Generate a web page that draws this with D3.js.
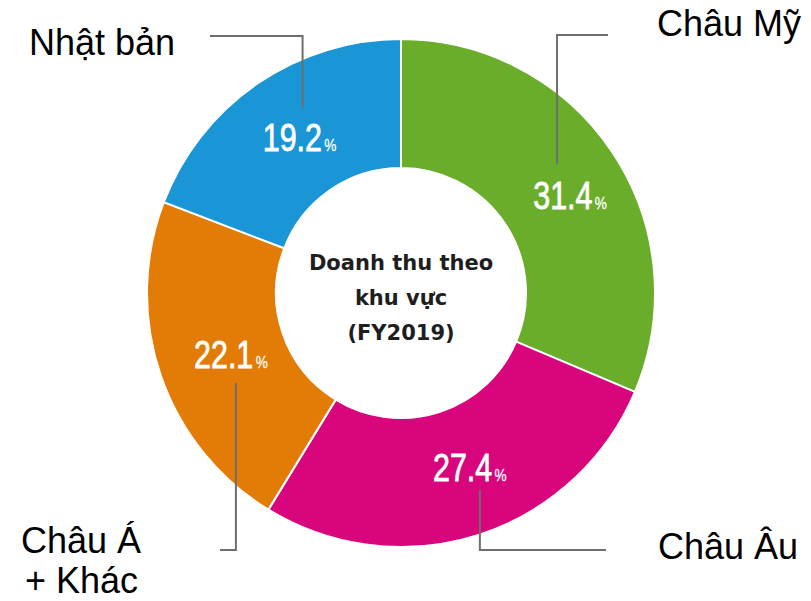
<!DOCTYPE html>
<html>
<head>
<meta charset="utf-8">
<script src="https://cdn.jsdelivr.net/npm/d3@7"></script>
<style>
  body { margin: 0; background: #fff; }
  svg { display: block; }
</style>
</head>
<body>
<div id="chart"></div>
<script>
// data
var regions = ["Châu Mỹ", "Châu Âu", "Châu Á + Khác", "Nhật bản"]
var shares = [31.4, 27.4, 22.1, 19.2]
var colors = ["#6aad2b", "#d8057c", "#e27c06", "#1a96d6"]
var centerLines = ["Doanh thu theo", "khu vực", "(FY2019)"]

var width = 811, height = 601
var cx = 401, cy = 293
var outerR = 254, innerR = 125

var svg = d3.select("#chart")
    .append("svg")
    .attr("width", width)
    .attr("height", height)

var g = svg.append("g")
    .attr("transform", "translate(" + cx + "," + cy + ")")

var pie = d3.pie().sort(null).value(function (d) { return d })
var arcs = pie(shares)

var arc = d3.arc().innerRadius(innerR).outerRadius(outerR)
var labelArc = d3.arc().innerRadius(186).outerRadius(186)

// slices
g.selectAll("path.slice")
    .data(arcs)
    .enter()
    .append("path")
    .attr("class", "slice")
    .attr("d", arc)
    .style("fill", function (d, i) { return colors[i] })
    .style("stroke", "#fff")
    .style("stroke-width", 2)

// small nudges for the percent labels (layout only)
var nudge = [[14, 6], [12, -2], [6, 2], [4, -2]]

var pos = arcs.map(function (d, i) {
    var c = labelArc.centroid(d)
    return [c[0] + nudge[i][0], c[1] + nudge[i][1]]
})

// leader lines: vertical from the label, then horizontal to the region name
// [dx from label centre, start dy, elbow y (abs), end x (abs)]
var leaderLayout = [
    [-13, -32, 35, 608],
    [10, 22, 550, 606],
    [5, 28, 550, 220],
    [3, -30, 36, 210]
]
var line = d3.line()
g.selectAll("path.leader")
    .data(arcs)
    .enter()
    .append("path")
    .attr("class", "leader")
    .attr("d", function (d, i) {
        var L = leaderLayout[i]
        var x = pos[i][0] + L[0]
        var y0 = pos[i][1] + L[1]
        return line([[x, y0], [x, L[2] - cy], [L[3] - cx, L[2] - cy]])
    })
    .style("fill", "none")
    .style("stroke", "#6e6e6e")
    .style("stroke-width", 2)

// percent labels (squeezed horizontally to look condensed)
var pct = g.selectAll("text.pct")
    .data(arcs)
    .enter()
    .append("text")
    .attr("class", "pct")
    .attr("transform", function (d, i) {
        return "translate(" + pos[i][0] + "," + (pos[i][1] + 13) + ") scale(0.8,1)"
    })
    .attr("text-anchor", "middle")
    .style("font-family", "'Liberation Sans', Arial, sans-serif")
    .style("fill", "#fff")
    .style("stroke", "#fff")
    .style("stroke-width", 0.8)
pct.append("tspan")
    .style("font-size", "38px")
    .text(function (d) { return d3.format(".1f")(d.value) })
pct.append("tspan")
    .style("font-size", "17px")
    .style("stroke-width", 0.3)
    .attr("dx", 3)
    .text("%")

// region names
var nameLayout = [
    { x: 657, y: 36, anchor: "start" },
    { x: 658, y: 559, anchor: "start" },
    { x: 21, y: 553, anchor: "start" },
    { x: 175, y: 55, anchor: "end" }
]
regions.forEach(function (r, i) {
    var t = svg.append("text")
        .attr("x", nameLayout[i].x)
        .attr("y", nameLayout[i].y)
        .attr("text-anchor", nameLayout[i].anchor)
        .style("font-family", "'Liberation Sans', Arial, sans-serif")
        .style("font-size", "36px")
        .style("fill", "#000")
    var parts = r.indexOf(" + ") > 0 ? [r.split(" + ")[0], "+ " + r.split(" + ")[1]] : [r]
    parts.forEach(function (p, k) {
        t.append("tspan")
            .attr("x", nameLayout[i].x + (k > 0 ? 4 : 0))
            .attr("dy", k > 0 ? 40 : 0)
            .text(p)
    })
})

// centre title
g.selectAll("text.center")
    .data(centerLines)
    .enter()
    .append("text")
    .attr("class", "center")
    .attr("x", 0)
    .attr("y", function (d, i) { return -23 + i * 35 })
    .attr("text-anchor", "middle")
    .style("font-family", "'DejaVu Sans', sans-serif")
    .style("font-weight", "bold")
    .style("font-size", "21px")
    .style("fill", "#1e1e1e")
    .text(function (d) { return d })
</script>
</body>
</html>
